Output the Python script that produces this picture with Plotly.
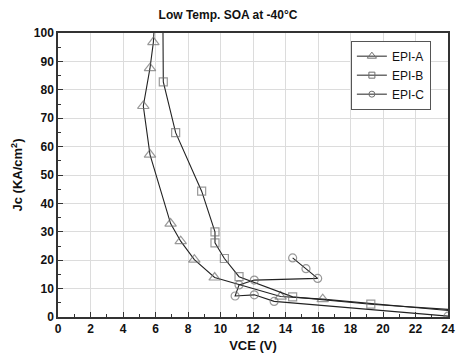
import plotly.graph_objects as go

# EPI-A (triangles)
epi_a_x = [5.95, 5.87, 5.66, 5.25, 5.66, 6.93, 7.55, 8.39, 9.64, 13.7, 16.29, 24.0]
epi_a_y = [105.0, 96.8, 87.6, 74.3, 57.2, 32.9, 26.7, 20.2, 13.9, 7.2, 6.3, 2.3]
epi_a_show = [0, 1, 1, 1, 1, 1, 1, 1, 1, 1, 1, 0]

# EPI-B (squares)
epi_b_x = [6.45, 6.48, 7.24, 8.84, 9.66, 9.66, 10.24, 11.14, 14.44, 19.25, 24.0]
epi_b_y = [110.0, 82.8, 64.9, 44.3, 30.0, 26.1, 20.6, 14.2, 7.1, 4.5, 2.7]
epi_b_show = [0, 1, 1, 1, 1, 1, 1, 1, 1, 1, 0]

# EPI-C (circles)
epi_c_x = [14.44, 15.26, 15.98, 12.08, 11.14, 10.9, 12.08, 13.3, 24.0]
epi_c_y = [20.8, 17.0, 13.6, 13.0, 11.3, 7.4, 7.8, 5.5, 0.3]
epi_c_show = [1, 1, 1, 1, 1, 1, 1, 1, 1]

series = [
    ("EPI-A", epi_a_x, epi_a_y, epi_a_show, "triangle-up-open", 10),
    ("EPI-B", epi_b_x, epi_b_y, epi_b_show, "square-open", 8),
    ("EPI-C", epi_c_x, epi_c_y, epi_c_show, "circle-open", 8),
]

LINE = "#222222"
MK = "#6e6e6e"
FONT = "Arial, Liberation Sans, sans-serif"

fig = go.Figure()
for name, xs, ys, show, sym, sz in series:
    fig.add_trace(go.Scatter(
        x=xs, y=ys, mode="lines+markers", name=name, showlegend=False,
        line=dict(color=LINE, width=1.1),
        marker=dict(symbol=sym, size=[sz * s for s in show],
                    color=MK, line=dict(color=MK, width=1.2)),
    ))
for name, xs, ys, show, sym, sz in series:
    fig.add_trace(go.Scatter(
        x=[None], y=[None], mode="lines+markers", name=name,
        line=dict(color=LINE, width=1),
        marker=dict(symbol=sym, size=sz - 2, color=MK,
                    line=dict(color=MK, width=1)),
    ))

axis_common = dict(
    showline=True, linecolor="#333333", linewidth=1.5, mirror=True,
    showgrid=True, gridcolor="#dcdcdc", gridwidth=1,
    ticks="inside", ticklen=5, tickcolor="#333333", tickwidth=1,
    zeroline=False, automargin=False,
    tickfont=dict(family=FONT, size=12, color="#111111", weight="bold"),
)

fig.update_xaxes(range=[0, 24], dtick=2, tick0=0,
                 minor=dict(dtick=1, ticks="inside", ticklen=3, tickcolor="#333333", showgrid=False),
                 title=dict(text="VCE (V)", font=dict(family=FONT, size=13, color="#111111", weight="bold"), standoff=6),
                 **axis_common)
fig.update_yaxes(range=[0, 100], dtick=10, tick0=0,
                 minor=dict(dtick=5, ticks="inside", ticklen=3, tickcolor="#333333", showgrid=False),
                 title=dict(text="Jc (KA/cm<sup>2</sup>)", font=dict(family=FONT, size=13, color="#111111", weight="bold"), standoff=8),
                 **axis_common)

fig.update_layout(
    width=456, height=358,
    margin=dict(l=58, r=8, t=33, b=41, pad=0),
    paper_bgcolor="white", plot_bgcolor="white",
    title=dict(text="Low Temp. SOA at -40°C", x=0.5, xanchor="center", y=0.958, yanchor="middle",
               font=dict(family=FONT, size=12, color="#111111", weight="bold")),
    legend=dict(x=0.751, y=0.973, xanchor="left", yanchor="top",
                bgcolor="white", bordercolor="#555555", borderwidth=1,
                font=dict(family=FONT, size=12, color="#111111"),
                itemwidth=30, tracegroupgap=0),
    showlegend=True,
)

fig.write_html("out.html")
